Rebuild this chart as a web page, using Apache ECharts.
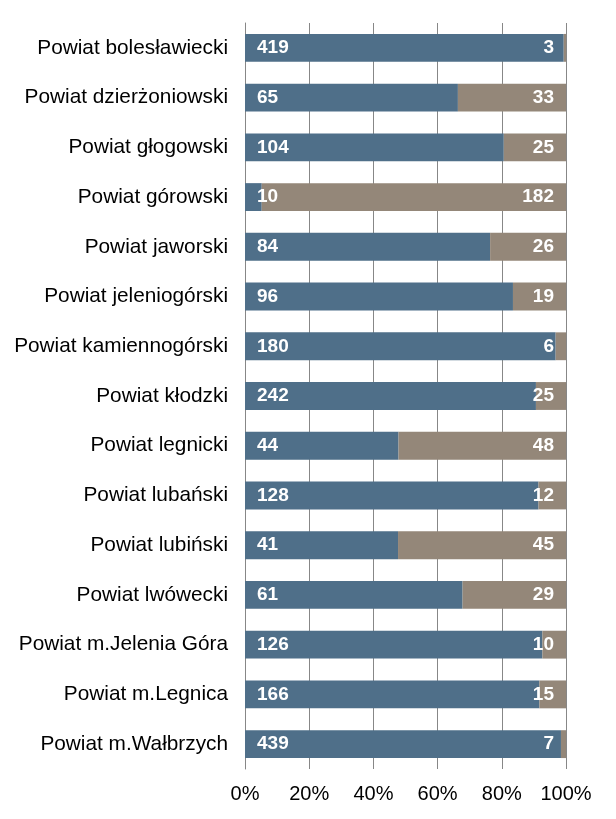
<!DOCTYPE html>
<html><head><meta charset="utf-8">
<script src="https://cdn.jsdelivr.net/npm/echarts@6/dist/echarts.min.js"></script>
<style>html,body{margin:0;padding:0;background:#fff}#c{width:616px;height:819px}</style>
</head><body><div id="c"></div>
<script>
const categories = ["Powiat bolesławiecki","Powiat dzierżoniowski","Powiat głogowski","Powiat górowski","Powiat jaworski","Powiat jeleniogórski","Powiat kamiennogórski","Powiat kłodzki","Powiat legnicki","Powiat lubański","Powiat lubiński","Powiat lwówecki","Powiat m.Jelenia Góra","Powiat m.Legnica","Powiat m.Wałbrzych"];
const seriesA = [419,65,104,10,84,96,180,242,44,128,41,61,126,166,439];
const seriesB = [3,33,25,182,26,19,6,25,48,12,45,29,10,15,7];
const tickLabels = ["0%","20%","40%","60%","80%","100%"];

const totals = seriesA.map((v,i)=>v+seriesB[i]);
const pctA = seriesA.map((v,i)=>({value: v/totals[i]*100, raw: v}));
const pctB = seriesB.map((v,i)=>({value: v/totals[i]*100, raw: v}));

const chart = echarts.init(document.getElementById('c'));
const lbl = (pos)=>({show:true, position:pos, distance:12, color:'#fff', fontWeight:'bold', fontSize:19, fontFamily:'Liberation Sans, Arial, sans-serif', formatter:p=>p.data.raw});
chart.setOption({
  animation:false,
  grid:{left:245, right:50, top:23, bottom:50, containLabel:false},
  xAxis:{type:'value', min:0, max:100, interval:20,
    axisLabel:{formatter:v=>tickLabels[v/20], fontSize:20, color:'#000', margin:15, fontFamily:'Liberation Sans, Arial, sans-serif'},
    splitLine:{show:true, lineStyle:{color:'#878787', width:1}},
    axisLine:{show:false}, axisTick:{show:false}},
  yAxis:{type:'category', data:categories, inverse:true,
    axisLabel:{fontSize:20.8, color:'#000', margin:17, fontFamily:'Liberation Sans, Arial, sans-serif'},
    axisLine:{show:true, lineStyle:{color:'#878787'}}, axisTick:{show:false}},
  series:[
    {type:'bar', stack:'s', data:pctA, barWidth:'56%', itemStyle:{color:'#4F6F89'}, label:lbl('insideLeft')},
    {type:'bar', stack:'s', data:pctB, barWidth:'56%', itemStyle:{color:'#948779'}, label:lbl('insideRight')}
  ]
});
</script></body></html>
